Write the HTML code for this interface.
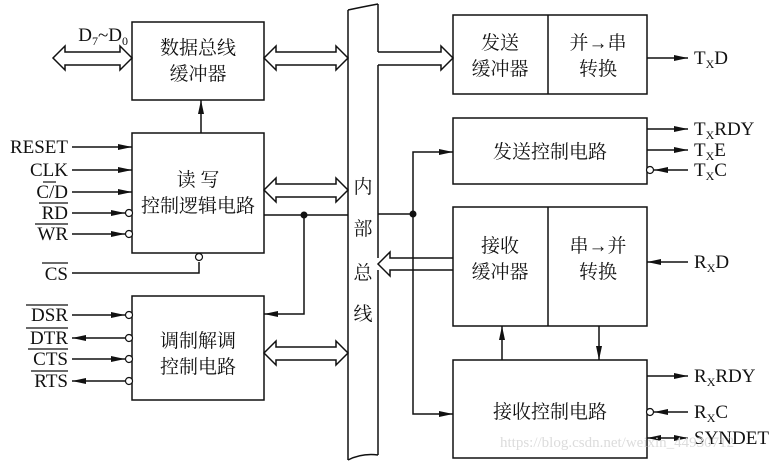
<!DOCTYPE html>
<html><head><meta charset="utf-8"><style>
body{margin:0;background:#fff}
svg text{font-family:"Liberation Serif","Noto Serif CJK SC",serif;fill:#111}
.cn{font-family:"Liberation Serif","Noto Sans CJK SC",sans-serif;font-size:19px}
.sig{font-size:19px}
</style></head><body>
<svg width="779" height="464" viewBox="0 0 779 464" xmlns="http://www.w3.org/2000/svg">
<defs>
<marker id="a" markerWidth="14" markerHeight="8" refX="14" refY="4" orient="auto" markerUnits="userSpaceOnUse"><path d="M0,1 L14,4 L0,7 Z" fill="#111"/></marker>
</defs>
<g fill="none" stroke="#111" stroke-width="1.5">
<rect x="132" y="22" width="132" height="78"/>
<rect x="132" y="133" width="132" height="120"/>
<rect x="132" y="296" width="132" height="104"/>
<rect x="453" y="15" width="194" height="79"/><line x1="548" y1="15" x2="548" y2="94"/>
<rect x="453" y="118" width="194" height="66"/>
<rect x="453" y="207" width="194" height="119"/><line x1="548" y1="207" x2="548" y2="326"/>
<rect x="453" y="360" width="194" height="98"/>
<!-- bus -->
<line x1="348" y1="10" x2="348" y2="460"/>
<path d="M348,10 Q362,7 378,4"/>
<path d="M348,460 Q362,453 378,455"/>
<line x1="378" y1="4" x2="378" y2="52"/>
<line x1="378" y1="65" x2="378" y2="258"/>
<line x1="378" y1="270" x2="378" y2="455"/>
<!-- hollow arrows -->
<path d="M65,52 L120,52 L120,46 L132,58 L120,70 L120,65 L65,65 L65,70 L53,58 L65,46 Z" fill="#fff"/>
<path d="M276,52 L336,52 L336,46 L348,58 L336,70 L336,65 L276,65 L276,70 L264,58 L276,46 Z" fill="#fff"/>
<path d="M276,184 L336,184 L336,178 L348,190 L336,202 L336,197 L276,197 L276,202 L264,190 L276,178 Z" fill="#fff"/>
<path d="M276,347 L336,347 L336,341 L348,353 L336,365 L336,360 L276,360 L276,365 L264,353 L276,341 Z" fill="#fff"/>
<path d="M378,52 L441,52 L441,46 L453,58 L441,70 L441,65 L378,65"/>
<path d="M453,258 L390,258 L390,252 L378,264 L390,276 L390,270 L453,270"/>
<!-- internal -->
<line x1="201" y1="133" x2="201" y2="100" marker-end="url(#a)"/>
<line x1="264" y1="215" x2="348" y2="215"/>
<polyline points="304,215 304,314 264,314" marker-end="url(#a)"/>
<line x1="378" y1="214" x2="413" y2="214"/>
<polyline points="413,214 413,152 453,152" marker-end="url(#a)"/>
<polyline points="413,214 413,414 453,414" marker-end="url(#a)"/>
<line x1="502" y1="360" x2="502" y2="326" marker-end="url(#a)"/>
<line x1="599" y1="326" x2="599" y2="360" marker-end="url(#a)"/>
<!-- left inputs -->
<line x1="72" y1="147" x2="132" y2="147" marker-end="url(#a)"/>
<line x1="72" y1="170" x2="132" y2="170" marker-end="url(#a)"/>
<line x1="72" y1="192" x2="132" y2="192" marker-end="url(#a)"/>
<line x1="72" y1="213" x2="125" y2="213" marker-end="url(#a)"/>
<line x1="72" y1="234" x2="125" y2="234" marker-end="url(#a)"/>
<polyline points="72,273 199,273 199,262"/>
<line x1="72" y1="315" x2="125" y2="315" marker-end="url(#a)"/>
<line x1="125" y1="338" x2="72" y2="338" marker-end="url(#a)"/>
<line x1="72" y1="359" x2="125" y2="359" marker-end="url(#a)"/>
<line x1="125" y1="381" x2="72" y2="381" marker-end="url(#a)"/>
<!-- right signals -->
<line x1="647" y1="58" x2="688" y2="58" marker-end="url(#a)"/>
<line x1="647" y1="129" x2="688" y2="129" marker-end="url(#a)"/>
<line x1="647" y1="150" x2="688" y2="150" marker-end="url(#a)"/>
<line x1="688" y1="170" x2="654" y2="170" marker-end="url(#a)"/>
<line x1="688" y1="262" x2="647" y2="262" marker-end="url(#a)"/>
<line x1="647" y1="376" x2="688" y2="376" marker-end="url(#a)"/>
<line x1="688" y1="412" x2="654" y2="412" marker-end="url(#a)"/>
<line x1="665" y1="438" x2="647" y2="438" marker-end="url(#a)"/>
<line x1="665" y1="438" x2="688" y2="438" marker-end="url(#a)"/>
</g>
<g fill="#fff" stroke="#111" stroke-width="1.2">
<circle cx="129" cy="213" r="3.5"/><circle cx="129" cy="234" r="3.5"/>
<circle cx="199" cy="257" r="3.5"/>
<circle cx="129" cy="315" r="3.5"/><circle cx="129" cy="338" r="3.5"/>
<circle cx="129" cy="359" r="3.5"/><circle cx="129" cy="381" r="3.5"/>
<circle cx="650" cy="170" r="3.5"/><circle cx="650" cy="412" r="3.5"/>
</g>
<circle cx="304" cy="215" r="3.5" fill="#111"/>
<circle cx="413" cy="214" r="3.5" fill="#111"/>
<g class="cn" text-anchor="middle">
<text x="198" y="54">数据总线</text><text x="198" y="80">缓冲器</text>
<text x="198" y="186">读 写</text><text x="198" y="212">控制逻辑电路</text>
<text x="198" y="347">调制解调</text><text x="198" y="373">控制电路</text>
<text x="500" y="49">发送</text><text x="500" y="75">缓冲器</text>
<text x="598" y="49">并→串</text><text x="598" y="75">转换</text>
<text x="550" y="158">发送控制电路</text>
<text x="500" y="252">接收</text><text x="500" y="278">缓冲器</text>
<text x="598" y="252">串→并</text><text x="598" y="278">转换</text>
<text x="550" y="418">接收控制电路</text>
<text x="363" y="193">内</text><text x="363" y="235">部</text>
<text x="363" y="279">总</text><text x="363" y="320">线</text>
</g>
<g class="sig" text-anchor="end">
<text x="128" y="41">D<tspan font-size="12" dy="4">7</tspan><tspan dy="-4">~D</tspan><tspan font-size="12" dy="4">0</tspan></text>
<text x="68" y="153">RESET</text>
<text x="68" y="176">CLK</text>
<text x="68" y="198">C/D</text>
<text x="68" y="219">RD</text>
<text x="68" y="240">WR</text>
<text x="68" y="280">CS</text>
<text x="68" y="321">DSR</text>
<text x="68" y="344">DTR</text>
<text x="68" y="365">CTS</text>
<text x="68" y="387">RTS</text>
</g>
<g stroke="#111" stroke-width="1.2">
<line x1="43" y1="182" x2="56" y2="182"/>
<line x1="39" y1="203" x2="68" y2="203"/>
<line x1="35" y1="224" x2="68" y2="224"/>
<line x1="42" y1="263" x2="68" y2="263"/>
<line x1="26" y1="305" x2="68" y2="305"/>
<line x1="26" y1="328" x2="68" y2="328"/>
<line x1="28" y1="349" x2="68" y2="349"/>
<line x1="31" y1="371" x2="68" y2="371"/>
</g>
<g class="sig">
<text x="694" y="64">T<tspan font-size="12" dy="4">X</tspan><tspan dy="-4">D</tspan></text>
<text x="694" y="135">T<tspan font-size="12" dy="4">X</tspan><tspan dy="-4">RDY</tspan></text>
<text x="694" y="156">T<tspan font-size="12" dy="4">X</tspan><tspan dy="-4">E</tspan></text>
<text x="694" y="176">T<tspan font-size="12" dy="4">X</tspan><tspan dy="-4">C</tspan></text>
<text x="694" y="268">R<tspan font-size="12" dy="4">X</tspan><tspan dy="-4">D</tspan></text>
<text x="694" y="382">R<tspan font-size="12" dy="4">X</tspan><tspan dy="-4">RDY</tspan></text>
<text x="694" y="418">R<tspan font-size="12" dy="4">X</tspan><tspan dy="-4">C</tspan></text>
<text x="694" y="444">SYNDET</text>
</g>
<text x="500" y="447" font-family="Liberation Sans,sans-serif" font-size="15" style="fill:#dcdcdc">https://blog.csdn.net/weixin_44930712</text>
</svg>
</body></html>
